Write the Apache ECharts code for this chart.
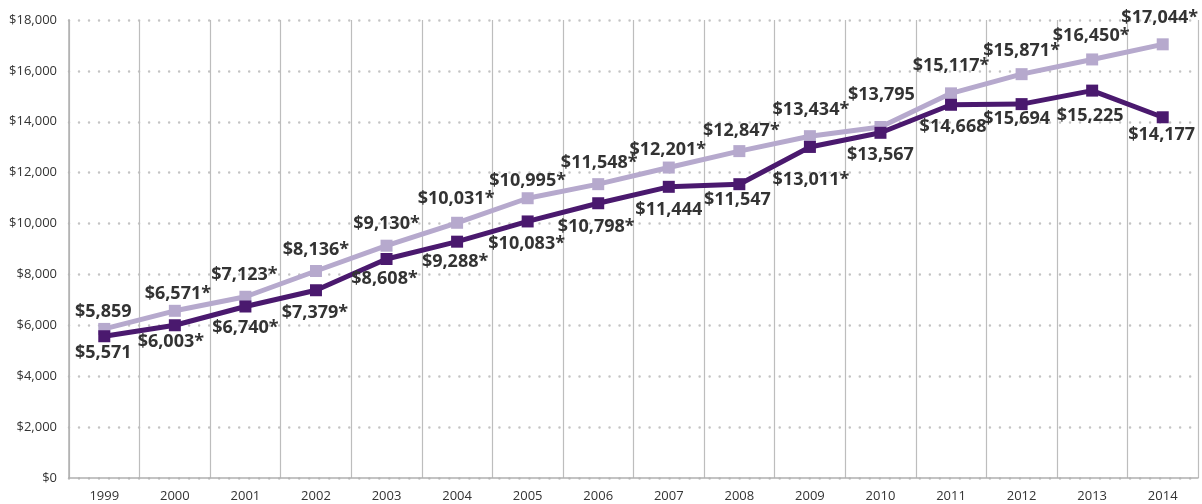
<!DOCTYPE html>
<html>
<head>
<meta charset="utf-8">
<script src="https://cdn.jsdelivr.net/npm/echarts@6/dist/echarts.min.js"></script>
<style>
  html, body { margin: 0; padding: 0; background: #fff; }
  #chart { width: 1202px; height: 504px; }
</style>
</head>
<body>
<div id="chart"></div>
<script>
// categories
var years = ['1999','2000','2001','2002','2003','2004','2005','2006','2007','2008','2009','2010','2011','2012','2013','2014'];

// upper (light) line
var upperValues = [5859, 6571, 7123, 8136, 9130, 10031, 10995, 11548, 12201, 12847, 13434, 13795, 15117, 15871, 16450, 17044];
var upperLabels = ['$5,859','$6,571*','$7,123*','$8,136*','$9,130*','$10,031*','$10,995*','$11,548*','$12,201*','$12,847*','$13,434*','$13,795','$15,117*','$15,871*','$16,450*','$17,044*'];

// lower (dark) line
var lowerValues = [5571, 6003, 6740, 7379, 8608, 9288, 10083, 10798, 11444, 11547, 13011, 13567, 14668, 14694, 15225, 14177];
var lowerLabels = ['$5,571','$6,003*','$6,740*','$7,379*','$8,608*','$9,288*','$10,083*','$10,798*','$11,444','$11,547','$13,011*','$13,567','$14,668','$15,694','$15,225','$14,177'];

// label nudges (px from the marker centre)
var upperOffsets = [[-1,-17],[3,-17],[-1,-22],[0,-21],[0,-22],[-1,-24],[0,-17],[1,-21],[-1,-18],[2,-20],[1,-26],[1,-32],[0,-27],[0,-23],[-1,-24],[-3,-26]];
var lowerOffsets = [[-1,17],[-4,17],[0,21],[-1,23],[-2,20],[-2,20],[-1,22],[-2,24],[0,23],[-2,16],[1,33],[0,22],[2,22],[-5,15],[-2,25],[-1,18]];

var yTicks = { min: 0, max: 18000, interval: 2000 };

var LIGHT = '#b6a9cd';
var DARK = '#4a196e';
var FONT = '"Open Sans", "Noto Sans", sans-serif';

function buildData(values, labels, offsets){
	var out = [];
	for(var i = 0; i < values.length; i++){
		out.push({
			value: values[i],
			label: { formatter: labels[i], offset: offsets[i] }
		});
	}
	return out;
}

var chart = echarts.init(document.getElementById('chart'));

var option = {
	animation: false,
	grid: { left: 69, right: 4, top: 20, bottom: 26 },
	xAxis: {
		type: 'category',
		data: years,
		boundaryGap: true,
		axisLine: { show: true, lineStyle: { color: '#b0b0b0', width: 1.5 } },
		axisTick: { show: false },
		axisLabel: { color: '#333', fontSize: 13, fontFamily: FONT, margin: 12 },
		splitLine: { show: true, lineStyle: { color: '#bdbdbd', width: 1.2 } }
	},
	yAxis: {
		type: 'value',
		min: yTicks.min,
		max: yTicks.max,
		interval: yTicks.interval,
		axisLine: { show: true, lineStyle: { color: '#b0b0b0', width: 1.5 } },
		axisTick: { show: false },
		axisLabel: {
			color: '#333', fontSize: 13, fontFamily: FONT, margin: 12,
			formatter: function(v){ return '$' + v.toLocaleString('en-US'); }
		},
		splitLine: { show: true, lineStyle: { color: '#c4c4c4', width: 2.5, type: [0.01, 10], cap: 'round' } }
	},
	series: [
		{
			name: 'upper',
			type: 'line',
			data: buildData(upperValues, upperLabels, upperOffsets),
			symbol: 'rect',
			symbolSize: 12,
			lineStyle: { color: LIGHT, width: 5 },
			itemStyle: { color: LIGHT },
			label: {
				show: true, position: 'inside',
				color: '#333', fontSize: 18, fontWeight: 'bold', fontFamily: FONT
			},
			z: 2
		},
		{
			name: 'lower',
			type: 'line',
			data: buildData(lowerValues, lowerLabels, lowerOffsets),
			symbol: 'rect',
			symbolSize: 12,
			lineStyle: { color: DARK, width: 5 },
			itemStyle: { color: DARK },
			label: {
				show: true, position: 'inside',
				color: '#333', fontSize: 18, fontWeight: 'bold', fontFamily: FONT
			},
			z: 3
		}
	]
};

option && chart.setOption(option);
</script>
</body>
</html>
